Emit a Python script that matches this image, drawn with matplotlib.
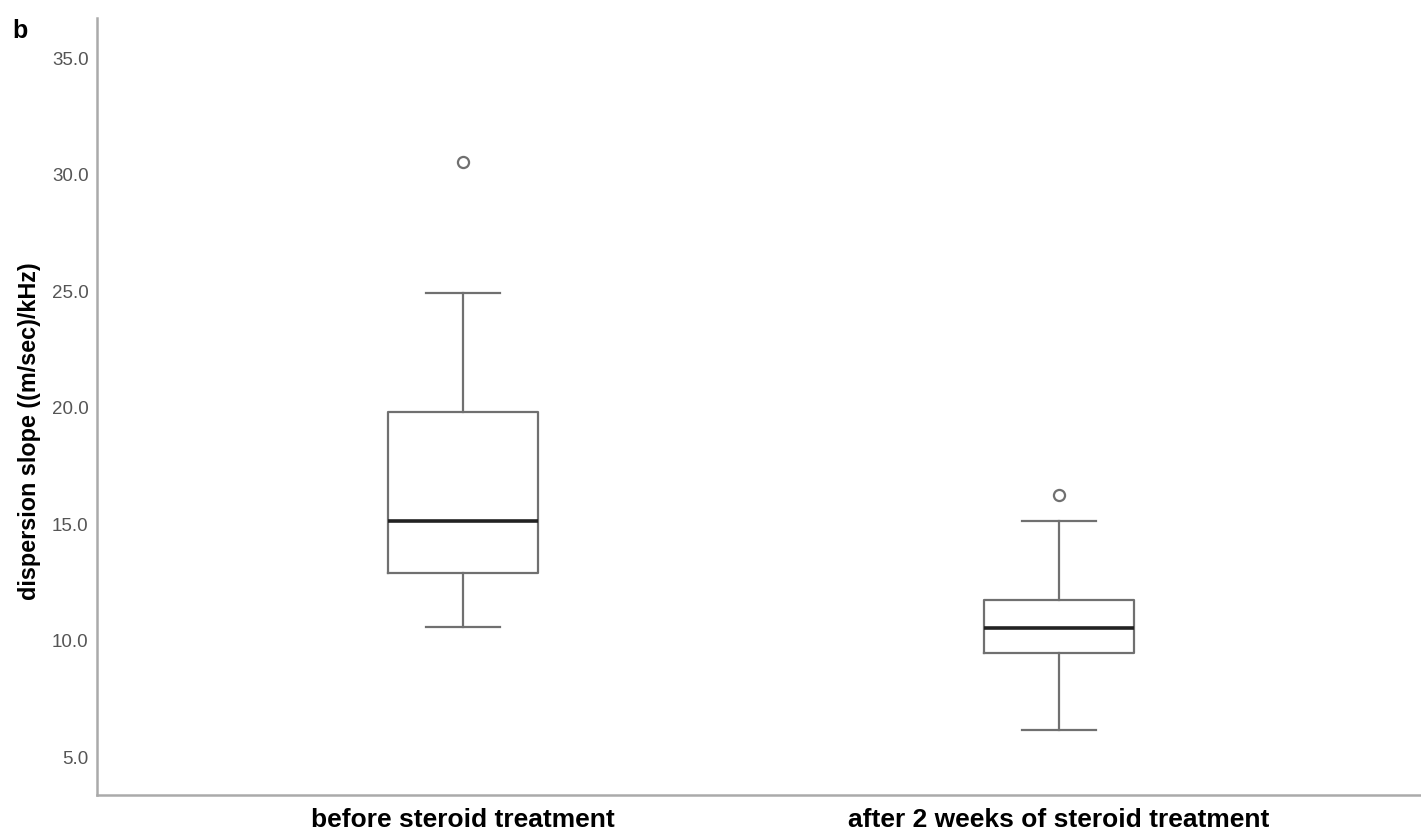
import numpy as np
import matplotlib.pyplot as plt

plt.rcParams['font.family'] = ['Liberation Sans', 'DejaVu Sans']

groups = ['before steroid treatment', 'after 2 weeks of steroid treatment']
whislo = [10.6, 6.15]
q1 = [12.9, 9.45]
med = [15.15, 10.55]
q3 = [19.8, 11.75]
whishi = [24.9, 15.15]
fliers = [[30.55], [16.25]]

stats = []
for i in range(len(groups)):
    stats.append({'label': groups[i], 'whislo': whislo[i], 'q1': q1[i], 'med': med[i],
                  'q3': q3[i], 'whishi': whishi[i], 'fliers': fliers[i]})

fig = plt.figure(figsize=(14.21, 8.36), dpi=100)
ax = fig.add_axes([0.0683, 0.049, 0.9317, 0.929])

grey = '#707070'
ax.bxp(stats, positions=[1, 2], widths=0.252, capwidths=0.124,
       boxprops=dict(color=grey, linewidth=1.6),
       whiskerprops=dict(color=grey, linewidth=1.6),
       capprops=dict(color=grey, linewidth=1.6),
       medianprops=dict(color='#222222', linewidth=2.6),
       flierprops=dict(marker='o', markersize=8, markerfacecolor='white',
                       markeredgecolor=grey, markeredgewidth=1.6))

ax.set_xlim(0.386, 2.607)
ax.set_ylim(3.37, 36.7)
ax.set_yticks([5, 10, 15, 20, 25, 30, 35])
ax.set_yticklabels(['%.1f' % v for v in [5, 10, 15, 20, 25, 30, 35]])
ax.tick_params(axis='y', length=0, labelsize=13.5, labelcolor='#555555', pad=6)
ax.tick_params(axis='x', length=0, labelsize=19, pad=9)
for lab in ax.get_xticklabels():
    lab.set_fontweight('bold')
for s in ['top', 'right']:
    ax.spines[s].set_visible(False)
for s in ['left', 'bottom']:
    ax.spines[s].set_color('#aaaaaa')
    ax.spines[s].set_linewidth(1.8)

ax.set_ylabel('dispersion slope ((m/sec)/kHz)', fontsize=16.8, fontweight='bold')
ax.yaxis.set_label_coords(-0.042, 0.468)
fig.text(0.009, 0.955, 'b', fontsize=18, fontweight='bold')

fig.savefig('out.png', dpi=100)
